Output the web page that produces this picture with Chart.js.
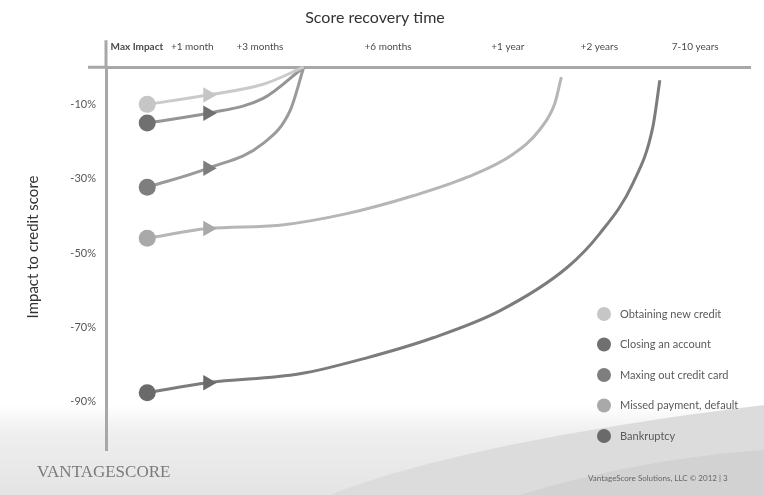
<!DOCTYPE html>
<html>
<head>
<meta charset="utf-8">
<script src="https://cdn.jsdelivr.net/npm/chart.js@4/dist/chart.umd.min.js"></script>
<style>
  html, body { margin: 0; padding: 0; background: #ffffff; }
  #wrap { width: 764px; height: 495px; }
</style>
</head>
<body>
<div id="wrap"><canvas id="c" width="764" height="495"></canvas></div>
<script>
// ---- Data ----
const chartTitle = 'Score recovery time';
const yTitle = 'Impact to credit score';
const xTickLabels = ['Max Impact', '+1 month', '+3 months', '+6 months', '+1 year', '+2 years', '7-10 years'];
const xTickPos = [4.8, 13.4, 23.9, 43.8, 62.4, 76.6, 91.5];   // timeline position (0-100)
const yTickValues = [-10, -30, -50, -70, -90];                  // impact %

const seriesNames = ['Obtaining new credit', 'Closing an account', 'Maxing out credit card', 'Missed payment, default', 'Bankruptcy'];

const newCreditX = [6.4, 15.8, 24.4, 30.7];
const newCreditY = [-10, -7.5, -4.6, 0];

const closingX = [6.4, 15.8, 24.4, 30.7];
const closingY = [-15, -12.4, -8.4, 0];

const maxingX = [6.4, 15.8, 24.4, 28.6, 30.7];
const maxingY = [-32.3, -27.2, -20.5, -11.6, 0];

const missedX = [6.4, 15.8, 27.0, 37.4, 47.7, 56.1, 63.2, 67.4, 69.7, 70.7];
const missedY = [-46, -43.4, -42.5, -39.4, -34.6, -29.6, -23.4, -16.7, -9.7, -2.7];

const bankruptcyX = [6.4, 15.8, 30.1, 40.5, 50.8, 61.2, 71.6, 76.7, 81.8, 84.9, 86.0];
const bankruptcyY = [-87.6, -84.9, -82.5, -78.2, -72.8, -65.5, -53.9, -44.7, -31.3, -16.2, -3.5];

// ---- Styles ----
const dotColors  = ['#c6c6c6', '#707070', '#7e7e7e', '#a9a9a9', '#6a6a6a'];
const lineColors = ['#cacaca', '#959595', '#9a9a9a', '#b6b6b6', '#7c7c7c'];

const zipXY = (xs, ys) => xs.map((x, i) => ({ x: x, y: ys[i] }));
const seriesData = [
  zipXY(newCreditX, newCreditY),
  zipXY(closingX, closingY),
  zipXY(maxingX, maxingY),
  zipXY(missedX, missedY),
  zipXY(bankruptcyX, bankruptcyY)
];

Chart.defaults.font.family = 'Lato, "Open Sans", sans-serif';

const datasets = seriesNames.map((name, i) => ({
  label: name,
  data: seriesData[i],
  borderColor: lineColors[i],
  borderWidth: 3,
  cubicInterpolationMode: 'monotone',
  pointStyle: (ctx) => ctx.dataIndex === 1 ? 'triangle' : 'circle',
  pointRotation: (ctx) => ctx.dataIndex === 1 ? 90 : 0,
  pointRadius: (ctx) => ctx.dataIndex === 0 ? 8.5 : (ctx.dataIndex === 1 ? 9 : 0),
  pointHoverRadius: (ctx) => ctx.dataIndex === 0 ? 8.5 : (ctx.dataIndex === 1 ? 9 : 0),
  pointBackgroundColor: dotColors[i],
  pointBorderWidth: 0,
  clip: false
}));

const decor = {
  id: 'decor',
  beforeDraw(chart) {
    const c = chart.ctx, W = chart.width, H = chart.height;
    c.save();
    c.fillStyle = '#ffffff';
    c.fillRect(0, 0, W, H);
    // light stipple band along the bottom
    const g = c.createLinearGradient(0, 405, 0, H);
    g.addColorStop(0, 'rgba(235,235,235,0)');
    g.addColorStop(0.35, 'rgba(238,238,238,1)');
    g.addColorStop(1, 'rgba(228,228,228,1)');
    c.fillStyle = g;
    c.fillRect(0, 405, W, H - 405);
    // darker sweep on the right
    c.beginPath();
    c.moveTo(330, H);
    c.bezierCurveTo(430, 455, 600, 425, W, 405);
    c.lineTo(W, H);
    c.closePath();
    c.fillStyle = '#dcdcdc';
    c.fill();
    c.beginPath();
    c.moveTo(520, H);
    c.bezierCurveTo(600, 470, 690, 455, W, 450);
    c.lineTo(W, H);
    c.closePath();
    c.fillStyle = '#d2d2d2';
    c.fill();
    c.restore();
  },
  afterDraw(chart) {
    const c = chart.ctx, a = chart.chartArea;
    c.save();
    // axis extensions (cross shape)
    c.strokeStyle = '#a8a8a8';
    c.lineWidth = 3;
    c.beginPath();
    c.moveTo(a.left - 18, a.top);
    c.lineTo(a.left, a.top);
    c.moveTo(a.left, a.top - 27);
    c.lineTo(a.left, a.top);
    c.stroke();

    // y axis title
    c.save();
    c.translate(33, 247);
    c.rotate(-Math.PI / 2);
    c.fillStyle = '#333333';
    c.font = '15px Lato, sans-serif';
    c.textAlign = 'center';
    c.textBaseline = 'middle';
    c.fillText(yTitle, 0, 0);
    c.restore();

    // legend
    const lx = 604, ly0 = 314, step = 30.5;
    c.font = '11px Lato, sans-serif';
    c.textBaseline = 'middle';
    c.textAlign = 'left';
    seriesNames.forEach((name, i) => {
      const y = ly0 + i * step;
      c.beginPath();
      c.arc(lx, y, 7, 0, Math.PI * 2);
      c.fillStyle = dotColors[i];
      c.fill();
      c.fillStyle = '#5a5a5a';
      c.fillText(name, lx + 16, y);
    });

    // logo and footer
    c.fillStyle = '#7a7a7a';
    c.font = '17px "Liberation Serif", serif';
    c.textBaseline = 'alphabetic';
    c.fillText('VANTAGESCORE', 37, 477);
    c.fillStyle = '#666666';
    c.font = '8px Lato, sans-serif';
    c.fillText('VantageScore Solutions, LLC \u00A9 2012 | 3', 588, 481);
    c.restore();
  }
};

new Chart(document.getElementById('c'), {
  type: 'line',
  data: { datasets: datasets },
  options: {
    responsive: false,
    animation: false,
    layout: { padding: { left: 0, right: 14, top: 0, bottom: 45 } },
    plugins: {
      legend: { display: false },
      tooltip: { enabled: false },
      title: {
        display: true,
        text: chartTitle,
        color: '#333333',
        font: { size: 16, weight: 'normal' },
        padding: { top: 8, bottom: 4 }
      }
    },
    scales: {
      x: {
        type: 'linear',
        position: 'top',
        min: 0,
        max: 100,
        afterBuildTicks: (s) => { s.ticks = xTickPos.map(v => ({ value: v })); },
        afterFit: (s) => { s.height = 36; },
        grid: { display: false, drawTicks: false },
        border: { display: true, color: '#a8a8a8', width: 3 },
        ticks: {
          autoSkip: false,
          maxRotation: 0,
          padding: 14,
          color: '#4a4a4a',
          font: (ctx) => ({ size: 10, weight: ctx.index === 0 ? 'bold' : 'normal' }),
          callback: (v, i) => xTickLabels[i]
        }
      },
      y: {
        type: 'linear',
        min: -103,
        max: 0,
        afterBuildTicks: (s) => { s.ticks = yTickValues.map(v => ({ value: v })); },
        afterFit: (s) => { s.width = 106; },
        grid: { display: false, drawTicks: false },
        border: { display: true, color: '#a8a8a8', width: 3 },
        ticks: {
          padding: 10,
          color: '#555555',
          font: { size: 11 },
          callback: (v) => v + '%'
        }
      }
    }
  },
  plugins: [decor]
});
</script>
</body>
</html>
